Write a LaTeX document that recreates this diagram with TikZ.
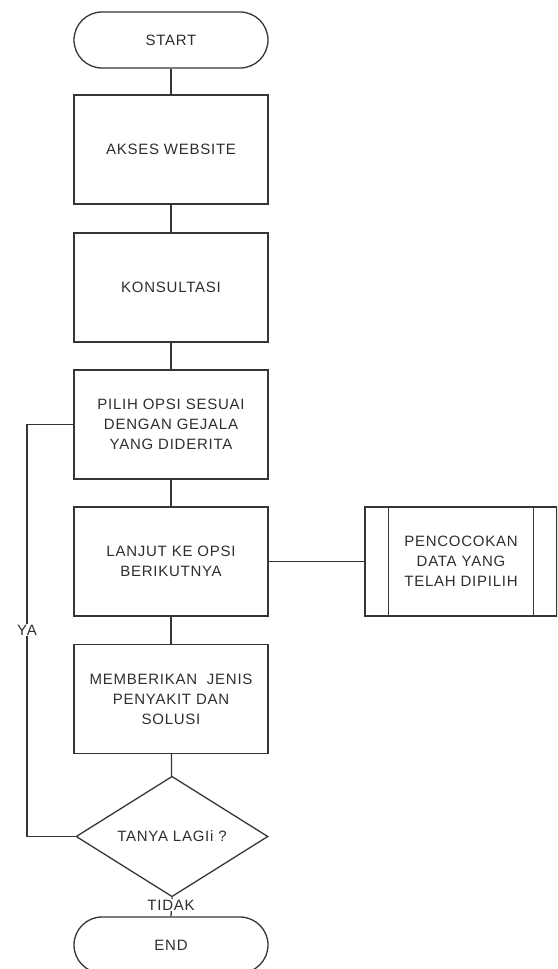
\documentclass[tikz,border=0pt]{standalone}
\usepackage{fontspec}
\setmainfont[LetterSpace=5]{Liberation Sans}
\usetikzlibrary{shapes.geometric}
\definecolor{txtgray}{HTML}{2E2E2E}
\definecolor{lngray}{HTML}{363636}
\begin{document}
\begin{tikzpicture}[x=1pt,y=-1pt,
  every node/.style={font=\fontsize{15}{20}\selectfont, text=txtgray},
  ln/.style={draw=lngray, line width=1.3pt},
  procbox/.style={ln, rectangle, minimum width=194pt, minimum height=109pt, align=center, inner sep=0pt},
  term/.style={ln, rectangle, rounded corners=28pt, minimum width=194pt, minimum height=56pt, inner sep=0pt},
  dec/.style={ln, diamond, minimum width=192pt, minimum height=109pt, inner sep=0pt},
  predef/.style={ln, rectangle, minimum width=192pt, minimum height=109pt, align=center, inner sep=0pt},
  lbl/.style={fill=white, inner sep=1pt}]
\useasboundingbox (0,0) rectangle (557,969);
\clip (0,0) rectangle (557,969);

\node[term] (start) at (171,40) {START};
\node[procbox] (akses) at (171,149.5) {AKSES WEBSITE};
\node[procbox] (konsul) at (171,287.5) {KONSULTASI};
\node[procbox] (pilih) at (171,424.5) {PILIH OPSI SESUAI\\DENGAN GEJALA\\YANG DIDERITA};
\node[procbox] (lanjut) at (171,561.5) {LANJUT KE OPSI\\BERIKUTNYA};
\node[procbox] (beri) at (171,699) {MEMBERIKAN\ \ JENIS\\PENYAKIT DAN\\SOLUSI};
\node[dec] (tanya) at (172,836.5) {TANYA LAGIi ?};
\node[term] (end) at (171,945) {END};
\node[predef] (pre) at (461,561.5) {PENCOCOKAN\\DATA YANG\\TELAH DIPILIH};
\draw[ln] ([xshift=24pt]pre.north west) -- ([xshift=24pt]pre.south west);
\draw[ln] ([xshift=-24pt]pre.north east) -- ([xshift=-24pt]pre.south east);

\draw[ln] (start) -- (akses);
\draw[ln] (akses) -- (konsul);
\draw[ln] (konsul) -- (pilih);
\draw[ln] (pilih) -- (lanjut);
\draw[ln] (lanjut) -- (beri);
\draw[ln] (beri) -- (tanya);
\draw[ln] (lanjut.east) -- (pre.west);

\coordinate (yaX) at (27,630);
\draw[ln] (tanya.west) -| (yaX) |- (pilih.west);
\node[lbl] (ya) at (yaX) {YA};

\draw[ln] (tanya.south) -- (end.north);
\node[lbl] (tidak) at (171,905) {TIDAK};
\end{tikzpicture}
\end{document}
